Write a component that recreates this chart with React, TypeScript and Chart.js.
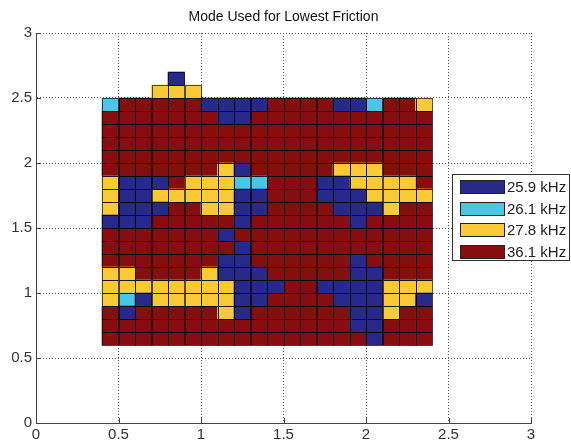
import React, { useEffect, useRef } from 'react';
import { Chart, registerables } from 'chart.js';

Chart.register(...registerables);

// ---- data ----
const chartTitle = 'Mode Used for Lowest Friction';
const modeLabels = ['25.9 kHz', '26.1 kHz', '27.8 kHz', '36.1 kHz'];
const modeCodes = ['N', 'C', 'Y', 'R'];
const modeColors = ['#272a8a', '#46c8e4', '#f8ca35', '#860e0e'];

// grid in tenths of a unit: first column starts at x = 0.4, first row tops at y = 2.7
const xStartTenths = 4;
const yTopTenths = 27;
// rows from top to bottom, one character per 0.1 x 0.1 cell ('.' = empty)
const gridRows = [
  '....N...............',
  '...YYY..............',
  'CRRRRRNNNNRRRRNNCRRY',
  'RRRRRRRNNRRRRRRRRRRR',
  'RRRRRRRRRRRRRRRRRRRR',
  'RRRRRRRRRRRRRRRRRRRR',
  'RRRRRRRRRRRRRRRRRRRR',
  'RRRRRRRYNRRRRRYYYRRR',
  'YNNNRYYYCCRRRNNYYYYR',
  'YNNYYYYYNNRRRNNNYYYY',
  'YNNNRRYYNNRRRRNNNYRR',
  'NNNRRRRRNRRRRRRNRRRR',
  'RRRRRRRNRRRRRRRRRRRR',
  'RRRRRRRRNRRRRRRRRRRR',
  'RRRRRRRNNRRRRRRNRRRR',
  'YYRRRRYNNNRRRRRNNRRR',
  'YYYYYYYYNNNRRNNNNYYY',
  'YCNYYYYYNNRRRRNNNYYN',
  'RNRRRRRYNRRRRRRNNYRR',
  'RRRRRRRRRRRRRRRNNRRR',
  'RRRRRRRRRRRRRRRRNRRR',
];

const axisMin = 0;
const axisMax = 3;
const tickStep = 0.5;

// ---- build datasets ----
function cellsFor(code: string) {
  const out: { x: number; y: [number, number] }[] = [];
  gridRows.forEach((row, k) => {
    for (let c = 0; c < row.length; c++) {
      if (row[c] !== code) continue;
      const x = (xStartTenths * 10 + c * 10 + 5) / 100;
      const hi = (yTopTenths - k) / 10;
      const lo = (yTopTenths - k - 1) / 10;
      out.push({ x, y: [lo, hi] });
    }
  });
  return out;
}

const FONT = "'Liberation Sans', Arial, Helvetica, sans-serif";

const titlePlugin = {
  id: 'matlabTitle',
  afterDraw(chart: any) {
    const { ctx, chartArea } = chart;
    ctx.save();
    ctx.font = `14px ${FONT}`;
    ctx.fillStyle = '#111';
    ctx.textAlign = 'center';
    ctx.textBaseline = 'middle';
    ctx.fillText(chartTitle, (chartArea.left + chartArea.right) / 2, 17);
    ctx.restore();
  },
};

// thin cell edges (like pcolor edges), drawn from the bar elements' own geometry
const cellEdgesPlugin = {
  id: 'cellEdges',
  afterDatasetsDraw(chart: any) {
    const { ctx } = chart;
    ctx.save();
    ctx.strokeStyle = 'rgba(0,0,0,0.66)';
    ctx.lineWidth = 1;
    ctx.beginPath();
    chart.data.datasets.forEach((_: any, di: number) => {
      const meta = chart.getDatasetMeta(di);
      meta.data.forEach((el: any) => {
        const { x, y, base, width } = el.getProps(['x', 'y', 'base', 'width'], true);
        const l = Math.round(x - width / 2);
        const r = Math.round(x + width / 2);
        const t = Math.round(Math.min(y, base));
        const b = Math.round(Math.max(y, base));
        ctx.rect(l + 0.5, t + 0.5, r - l, b - t);
      });
    });
    ctx.stroke();
    ctx.restore();
  },
};

const innerTicksPlugin = {
  id: 'innerTicks',
  afterDraw(chart: any) {
    const { ctx, chartArea, scales } = chart;
    ctx.save();
    ctx.strokeStyle = '#444';
    ctx.lineWidth = 1;
    ctx.beginPath();
    scales.x.ticks.forEach((t: any) => {
      const px = Math.round(scales.x.getPixelForValue(t.value)) + 0.5;
      ctx.moveTo(px, chartArea.bottom);
      ctx.lineTo(px, chartArea.bottom - 5);
    });
    scales.y.ticks.forEach((t: any) => {
      const py = Math.round(scales.y.getPixelForValue(t.value)) + 0.5;
      ctx.moveTo(chartArea.left, py);
      ctx.lineTo(chartArea.left + 5, py);
    });
    ctx.stroke();
    ctx.restore();
  },
};

const legendPlugin = {
  id: 'matlabLegend',
  afterDraw(chart: any) {
    const { ctx } = chart;
    const bx = 452.5, by = 174.5, bw = 117, bh = 86;
    ctx.save();
    ctx.fillStyle = '#fff';
    ctx.fillRect(bx, by, bw, bh);
    ctx.strokeStyle = '#333';
    ctx.lineWidth = 1;
    ctx.strokeRect(bx, by, bw, bh);
    ctx.font = `15px ${FONT}`;
    ctx.textBaseline = 'middle';
    ctx.textAlign = 'left';
    chart.data.datasets.forEach((ds: any, i: number) => {
      const top = Math.round(180 + i * 21.7);
      ctx.fillStyle = ds.backgroundColor;
      ctx.fillRect(460, top, 45, 14);
      ctx.strokeStyle = '#222';
      ctx.strokeRect(460.5, top + 0.5, 44, 13);
      ctx.fillStyle = '#222';
      ctx.fillText(ds.label, 507, top + 7.5);
    });
    ctx.restore();
  },
};

export default function App() {
  const ref = useRef<HTMLCanvasElement>(null);

  useEffect(() => {
    if (!ref.current) return;
    const datasets = modeLabels.map((label, i) => ({
      label,
      data: cellsFor(modeCodes[i]),
      backgroundColor: modeColors[i],
      borderWidth: 0,
      borderSkipped: false,
      grouped: false,
      barPercentage: 1,
      categoryPercentage: 1,
    }));

    const tickFont = { family: FONT, size: 15 };
    const fmt = (v: any) => String(Number(v));
    const chart = new Chart(ref.current, {
      type: 'bar',
      data: { datasets } as any,
      plugins: [cellEdgesPlugin, titlePlugin, innerTicksPlugin, legendPlugin],
      options: {
        animation: false,
        responsive: true,
        maintainAspectRatio: false,
        layout: { padding: { top: 33, right: 40, left: 0, bottom: 0 } },
        plugins: {
          legend: { display: false },
          tooltip: { enabled: false },
          title: { display: false },
        },
        scales: {
          x: {
            type: 'linear',
            min: axisMin,
            max: axisMax,
            offset: false,
            grid: { color: '#555', lineWidth: 1, drawTicks: false, offset: false },
            border: { display: true, color: '#444', width: 1, dash: [1, 2] },
            ticks: { stepSize: tickStep, padding: 3, color: '#333', font: tickFont, maxRotation: 0, autoSkip: false, callback: fmt },
            afterFit: (s: any) => { s.height = 21; },
          },
          y: {
            type: 'linear',
            min: axisMin,
            max: axisMax,
            grid: { color: '#555', lineWidth: 1, drawTicks: false },
            border: { display: true, color: '#444', width: 1, dash: [1, 2] },
            ticks: { stepSize: tickStep, padding: 4, color: '#333', font: tickFont, autoSkip: false, callback: fmt },
            afterFit: (s: any) => { s.width = 36; },
          },
        },
      } as any,
    });
    return () => chart.destroy();
  }, []);

  return (
    <div style={{ position: 'absolute', left: 0, top: 0, width: 571, height: 444, background: '#fff' }}>
      <canvas ref={ref} />
    </div>
  );
}
